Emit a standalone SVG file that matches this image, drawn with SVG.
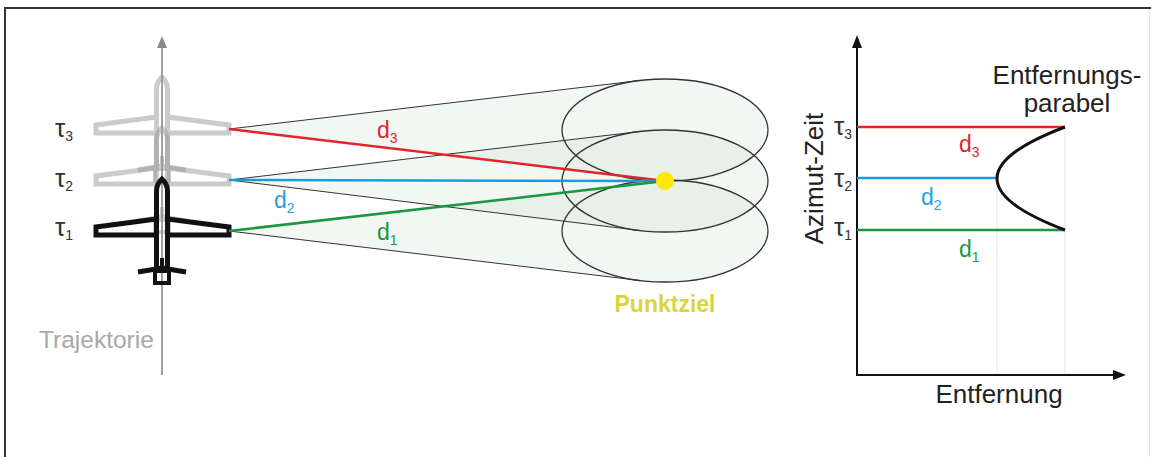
<svg xmlns="http://www.w3.org/2000/svg" width="1151" height="457" viewBox="0 0 1151 457">
  <style>
    text { font-family: "Liberation Sans", Arial, sans-serif; }
    .lbl { font-size: 26px; fill: #222; }
    .tau { font-size: 26px; fill: #333; }
    .sub { font-size: 14px; }
    .d { font-size: 23px; }
    .beam { fill: #cfe6d8; fill-opacity: 0.3; stroke: none; }
    .edge { stroke: #333; stroke-width: 1; fill: none; }
    .lobe { stroke: #333; stroke-width: 1.3; fill: none; }
    .plane { fill: none; stroke-width: 5; stroke-linejoin: miter; }
    .axis { stroke: #111; stroke-width: 2; fill: none; }
    .guide { stroke: #e4e4e4; stroke-width: 1; }
  </style>
  <defs>
    <!-- aircraft outline, origin at fuselage centre on the wing row -->
    <g id="aircraft">
      <path d="M-5.5,40 V-40 Q-5.5,-47 0,-52 Q5.5,-47 5.5,-40 V40"/>
      <path d="M5.5,-12 L67,-4 L67,4 L5.5,4"/>
      <path d="M-5.5,-12 L-66,-4 L-66,4 L-5.5,4"/>
      <path d="M-24,41 L0,37 L24,41"/>
      <rect x="-7" y="40" width="14" height="12" stroke-width="4"/>
      <rect x="-2" y="27" width="4" height="14" stroke="none" fill="currentColor"/>
    </g>
  </defs>

  <rect width="1151" height="457" fill="#fff"/>
  <path d="M5,457 V8 H1151" fill="none" stroke="#333" stroke-width="2"/>
  <line x1="1149.5" y1="9" x2="1149.5" y2="457" stroke="#e6e6e6" stroke-width="1"/>

  <!-- antenna footprints (beams) -->
  <g id="beams">
    <path class="beam" d="M229,129 L640,80.5 A103,51 0 1 1 640,179.5 Z"/>
    <path class="beam" d="M229,180 L640,131.5 A103,51 0 1 1 640,230.5 Z"/>
    <path class="beam" d="M229,231 L640,181.5 A103,51 0 1 1 640,280.5 Z"/>
    <line class="edge" x1="229" y1="129" x2="640" y2="80.5"/>
    <line class="edge" x1="229" y1="180" x2="640" y2="131.5"/>
    <line class="edge" x1="229" y1="180" x2="640" y2="230.5"/>
    <line class="edge" x1="229" y1="231" x2="640" y2="280.5"/>
    <ellipse class="lobe" cx="665" cy="130" rx="103" ry="51"/>
    <ellipse class="lobe" cx="665" cy="181" rx="103" ry="51"/>
    <ellipse class="lobe" cx="665" cy="231" rx="103" ry="51"/>
  </g>

  <!-- flight path -->
  <g id="trajectory">
    <line x1="162" y1="46" x2="162" y2="375" stroke="#8a8a8a" stroke-width="1.6"/>
    <polygon points="162,36 157,48 167,48" fill="#8a8a8a"/>
    <text x="39" y="348" font-size="24.5" fill="#a8a8a8">Trajektorie</text>
  </g>

  <!-- aircraft positions -->
  <g id="aircraft-tau3" transform="translate(162,129)" opacity="0.5">
    <use href="#aircraft" class="plane" stroke="#999" color="#999"/>
  </g>
  <g id="aircraft-tau2" transform="translate(162,180)" opacity="0.5">
    <use href="#aircraft" class="plane" stroke="#999" color="#999"/>
  </g>
  <g id="aircraft-tau1" transform="translate(162,231)">
    <use href="#aircraft" class="plane" stroke="#111" color="#111"/>
  </g>

  <g id="time-labels-left">
    <text class="tau" x="55" y="137">τ<tspan class="sub" dy="4">3</tspan></text>
    <text class="tau" x="55" y="187">τ<tspan class="sub" dy="4">2</tspan></text>
    <text class="tau" x="55" y="236">τ<tspan class="sub" dy="4">1</tspan></text>
  </g>

  <!-- slant ranges -->
  <g id="connectors">
    <line x1="229" y1="129" x2="665" y2="181" stroke="#e2242b" stroke-width="2.5"/>
    <line x1="229" y1="180" x2="665" y2="181" stroke="#1f9ad8" stroke-width="2.5"/>
    <line x1="229" y1="231" x2="665" y2="181" stroke="#1b9540" stroke-width="2.5"/>
    <text class="d" x="377" y="138" fill="#e2242b">d<tspan class="sub" dy="5">3</tspan></text>
    <text class="d" x="274" y="208" fill="#2a9fdc">d<tspan class="sub" dy="5">2</tspan></text>
    <text class="d" x="377" y="240" fill="#1b9540">d<tspan class="sub" dy="5">1</tspan></text>
  </g>

  <g id="target">
    <circle cx="665" cy="181" r="9" fill="#ffe800"/>
    <text x="665" y="312" text-anchor="middle" font-size="23" font-weight="bold" fill="#dcd43c">Punktziel</text>
  </g>

  <!-- range vs. azimuth-time chart -->
  <g id="chart">
    <line class="guide" x1="997" y1="178" x2="997" y2="375"/>
    <line class="guide" x1="1065" y1="127" x2="1065" y2="375"/>
    <line class="axis" x1="857" y1="46" x2="857" y2="375"/>
    <line class="axis" x1="856" y1="375" x2="1114" y2="375"/>
    <polygon points="857,35 852,48 862,48" fill="#111"/>
    <polygon points="1126,375 1113,370 1113,380" fill="#111"/>
    <line x1="857" y1="127" x2="1065" y2="127" stroke="#e2242b" stroke-width="2.5"/>
    <line x1="857" y1="178" x2="997" y2="178" stroke="#1f9ad8" stroke-width="2.5"/>
    <line x1="857" y1="230" x2="1065" y2="230" stroke="#1b9540" stroke-width="2.5"/>
    <path d="M1065,127 Q929,178.5 1065,230" fill="none" stroke="#111" stroke-width="3"/>
    <text class="d" x="959" y="152" fill="#e2242b">d<tspan class="sub" dy="5">3</tspan></text>
    <text class="d" x="921" y="205" fill="#2a9fdc">d<tspan class="sub" dy="5">2</tspan></text>
    <text class="d" x="959" y="257" fill="#1b9540">d<tspan class="sub" dy="5">1</tspan></text>
    <text class="tau" x="834" y="135">τ<tspan class="sub" dy="4">3</tspan></text>
    <text class="tau" x="834" y="187">τ<tspan class="sub" dy="4">2</tspan></text>
    <text class="tau" x="834" y="236">τ<tspan class="sub" dy="4">1</tspan></text>
    <text class="lbl" transform="translate(823,178.5) rotate(-90)" text-anchor="middle">Azimut-Zeit</text>
    <text class="lbl" x="1067" y="84" text-anchor="middle">Entfernungs-</text>
    <text class="lbl" x="1067" y="112" text-anchor="middle">parabel</text>
    <text class="lbl" x="999" y="403" text-anchor="middle">Entfernung</text>
  </g>
</svg>
